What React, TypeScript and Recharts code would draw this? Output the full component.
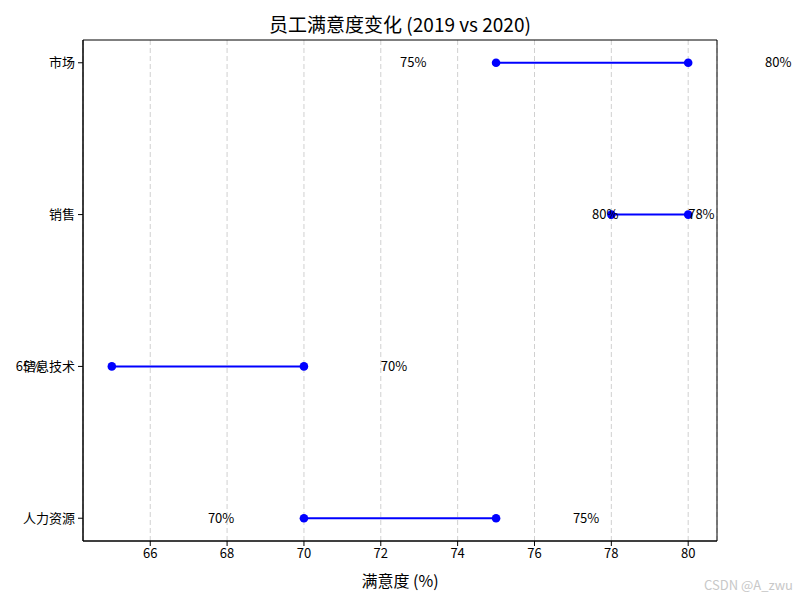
import { ScatterChart, Scatter, XAxis, YAxis, CartesianGrid, ReferenceDot, ReferenceArea, Label } from "recharts";

const departments = ["人力资源", "信息技术", "销售", "市场"];
const score2019 = [70, 65, 80, 75];
const score2020 = [75, 70, 78, 80];
const xTicks = [66, 68, 70, 72, 74, 76, 78, 80];
const yTicks = [0, 1, 2, 3];

const X_DOMAIN = [64.25, 80.75];
const Y_DOMAIN = [-0.15, 3.15];

// label offsets in data units (left of 2019 point, right of 2020 point)
const LEFT_OFFSET = 2.5;
const RIGHT_OFFSET = 2;

const FONT = '"Noto Sans CJK SC", "Noto Sans", sans-serif';
const BLUE = "#0000ff";

const dot = (props: any) => <circle cx={props.cx} cy={props.cy} r={4.3} fill={BLUE} />;

const textShape = (txt: string) => (props: any) => (
  <text x={props.cx} y={props.cy} dy="0.35em" textAnchor="start" fontSize={13} fill="#000" fontFamily={FONT}>
    {txt}
  </text>
);

export default function App() {
  return (
    <div style={{ position: "absolute", left: 0, top: 0, width: 800, height: 600, background: "#fff", fontFamily: FONT }}>
      <div style={{ position: "absolute", left: 0, width: 800, top: 12, textAlign: "center", fontSize: 19, lineHeight: "24px", color: "#000" }}>
        员工满意度变化 (2019 vs 2020)
      </div>
      <ScatterChart width={800} height={600} margin={{ top: 40, right: 83, bottom: 0, left: 0 }}>
        <CartesianGrid horizontal={false} strokeDasharray="5 3" stroke="#d0d0d0" />
        <XAxis
          type="number"
          dataKey="x"
          domain={X_DOMAIN}
          ticks={xTicks}
          height={59}
          tickSize={5}
          tickMargin={3}
          stroke="#000"
          tick={{ fill: "#000", fontSize: 13, fontFamily: FONT }}
        >
          <Label value="满意度 (%)" position="insideBottom" offset={13} fill="#000" fontSize={16} fontFamily={FONT} />
        </XAxis>
        <YAxis
          type="number"
          dataKey="y"
          domain={Y_DOMAIN}
          ticks={yTicks}
          width={83}
          tickSize={5}
          tickMargin={3}
          stroke="#000"
          tickFormatter={(v: number) => departments[v]}
          tick={{ fill: "#000", fontSize: 13, fontFamily: FONT }}
        />
        <ReferenceArea
          x1={X_DOMAIN[0]}
          x2={X_DOMAIN[1]}
          y1={Y_DOMAIN[0]}
          y2={Y_DOMAIN[1]}
          fill="none"
          stroke="#000"
          strokeWidth={1}
          ifOverflow="visible"
        />
        {departments.map((d, i) => (
          <Scatter
            key={d}
            data={[
              { x: score2019[i], y: i },
              { x: score2020[i], y: i },
            ]}
            line={{ stroke: BLUE, strokeWidth: 2 }}
            shape={dot}
            fill={BLUE}
            isAnimationActive={false}
          />
        ))}
        {departments.map((d, i) => (
          <ReferenceDot
            key={d + "-a"}
            x={score2019[i] - LEFT_OFFSET}
            y={i}
            ifOverflow="visible"
            shape={textShape(`${score2019[i]}%`)}
          />
        ))}
        {departments.map((d, i) => (
          <ReferenceDot
            key={d + "-b"}
            x={score2020[i] + RIGHT_OFFSET}
            y={i}
            ifOverflow="visible"
            shape={textShape(`${score2020[i]}%`)}
          />
        ))}
      </ScatterChart>
      <div style={{ position: "absolute", right: 7, top: 575, fontSize: 13, color: "#c8c8c8" }}>CSDN @A_zwu</div>
    </div>
  );
}
